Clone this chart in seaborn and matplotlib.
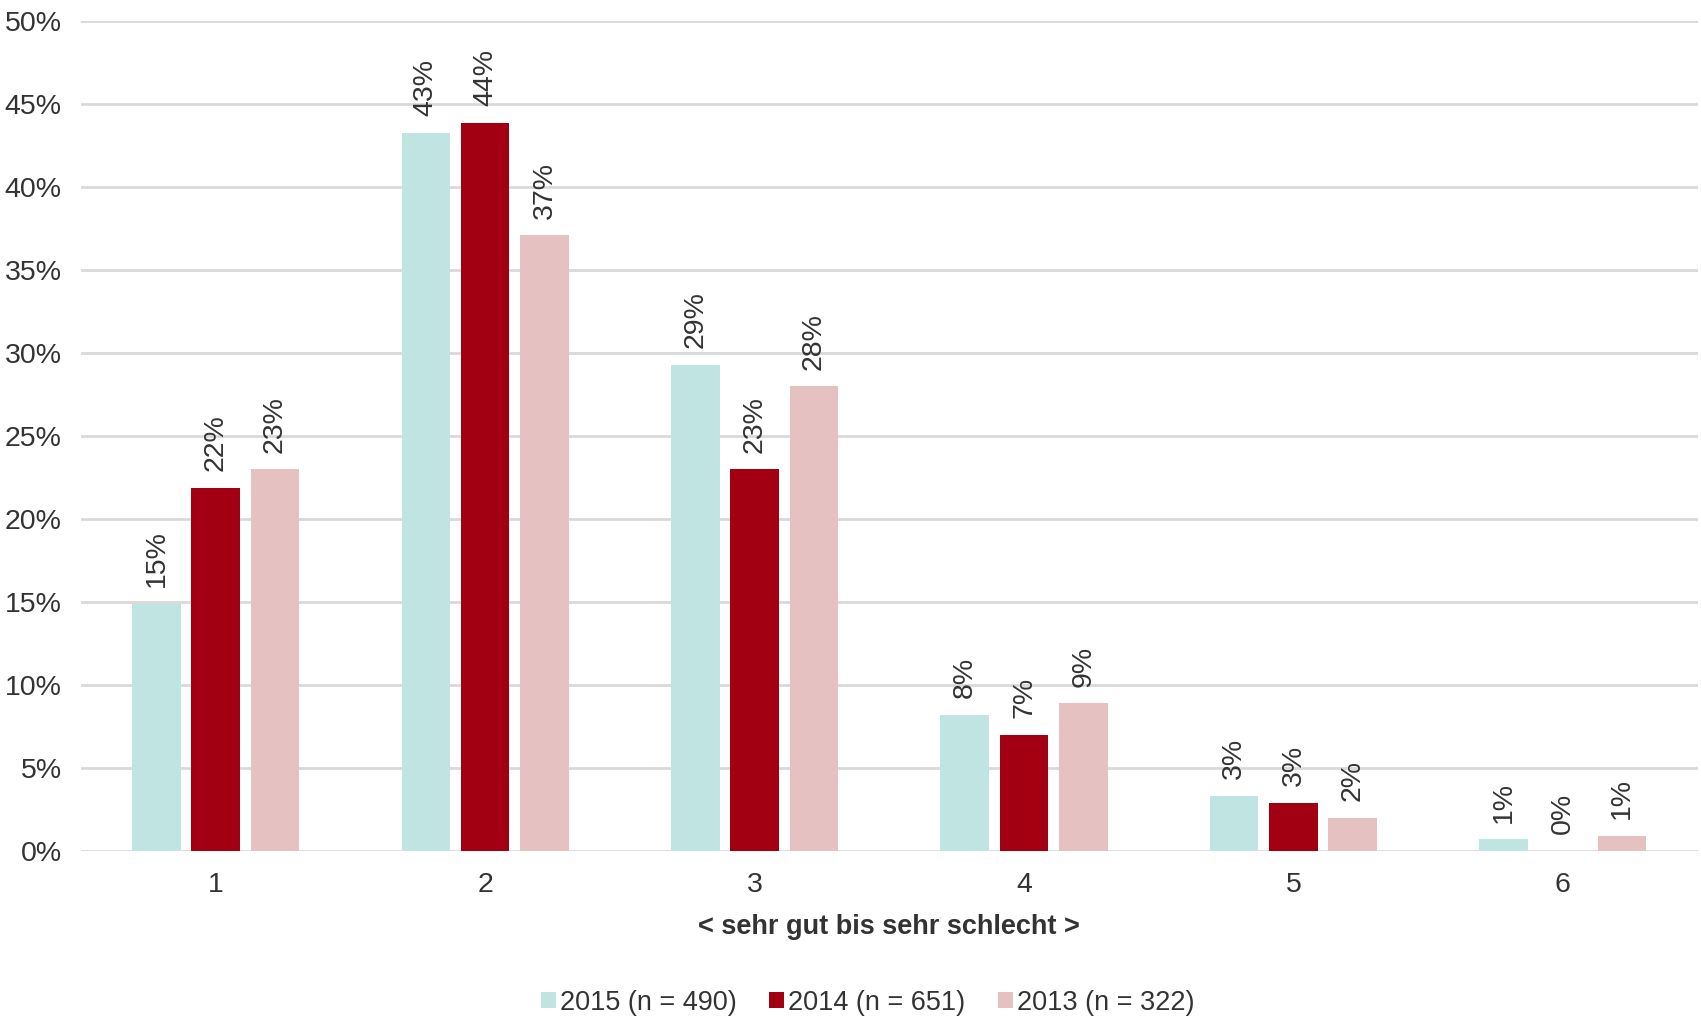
import matplotlib
matplotlib.use("Agg")
import matplotlib.pyplot as plt
import seaborn as sns
import pandas as pd

# Ratings 1 (sehr gut) .. 6 (sehr schlecht), share of respondents in percent
categories = ["1", "2", "3", "4", "5", "6"]
series_names = ["2015 (n = 490)", "2014 (n = 651)", "2013 (n = 322)"]
values_2015 = [14.9, 43.3, 29.3, 8.2, 3.3, 0.7]
values_2014 = [21.9, 43.9, 23.0, 7.0, 2.9, 0.0]
values_2013 = [23.0, 37.1, 28.0, 8.9, 2.0, 0.9]
colors = ["#bfe4e1", "#a20012", "#e6c1c2"]
y_ticks = [0, 5, 10, 15, 20, 25, 30, 35, 40, 45, 50]
x_label = "< sehr gut bis sehr schlecht >"

rows = []
for name, vals in zip(series_names, [values_2015, values_2014, values_2013]):
    for cat, v in zip(categories, vals):
        rows.append({"Note": cat, "Jahr": name, "Anteil": v})
df = pd.DataFrame(rows)

sns.set_theme(style="white")
plt.rcParams["font.family"] = ["Liberation Sans", "DejaVu Sans"]
text_color = "#333333"
grid_color = "#d9d9d9"

fig = plt.figure(figsize=(17.01, 10.19), dpi=100)
ax = fig.add_axes([0.0476, 0.165, 0.9504, 0.814])

sns.barplot(data=df, x="Note", y="Anteil", hue="Jahr", hue_order=series_names,
            order=categories, palette=colors, width=0.66, gap=0.18,
            saturation=1, linewidth=0, ax=ax, zorder=3)

for cont in ax.containers:
    ax.bar_label(cont, labels=[f"{b.get_height():.0f}%" for b in cont],
                 rotation=90, padding=12, fontsize=20.5, color=text_color)

ax.set_ylim(0, 50)
ax.set_xlim(-0.5, 5.5)
ax.set_yticks(y_ticks)
ax.set_yticklabels([f"{t}%" for t in y_ticks])
ax.yaxis.grid(True, color=grid_color, linewidth=2, zorder=0)
ax.set_axisbelow(True)
for s in ax.spines.values():
    s.set_visible(False)
ax.tick_params(axis="both", length=0, labelsize=20.5, colors=text_color)
ax.tick_params(axis="y", pad=14)
ax.tick_params(axis="x", pad=15)
ax.set_ylabel("")
ax.set_xlabel(x_label, fontsize=19.5, fontweight="bold", color=text_color, labelpad=12)

handles, labels = ax.get_legend_handles_labels()
ax.get_legend().remove()
fig.legend(handles, labels, loc="center", bbox_to_anchor=(0.51, 0.016), ncol=3,
           frameon=False, fontsize=19.5, handlelength=0.55, handleheight=0.55,
           handletextpad=0.15, columnspacing=1.2, labelcolor=text_color)

fig.savefig("out.png", dpi=100)
